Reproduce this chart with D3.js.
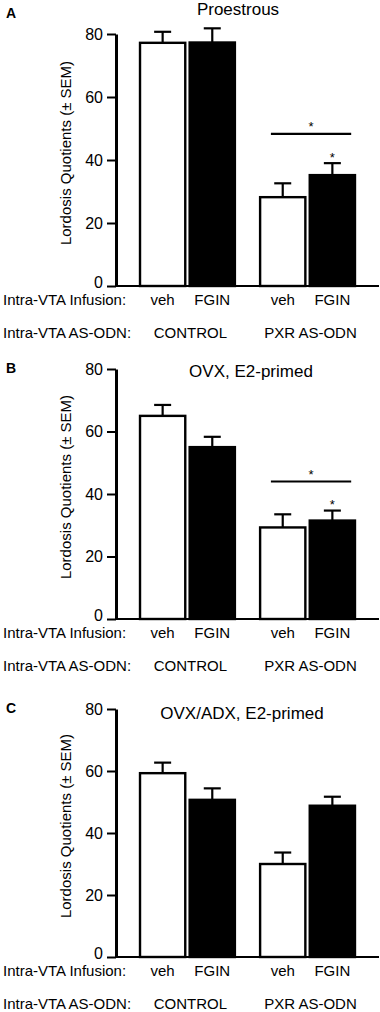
<!DOCTYPE html>
<html><head><meta charset="utf-8">
<script src="https://cdn.jsdelivr.net/npm/d3@7"></script>
<style>
body{margin:0;background:#fff}
svg{display:block}
text{font-family:"Liberation Sans",Arial,Helvetica,sans-serif;fill:#000}
</style>
</head><body>
<svg id="chart" width="380" height="1012"></svg>
<script>
// ---- data ----
const panelLetters = ["A", "B", "C"];
const panelTitles = ["Proestrous", "OVX, E2-primed", "OVX/ADX, E2-primed"];
const groups = ["CONTROL", "PXR AS-ODN"];
const infusions = ["veh", "FGIN"];
const meansA = [77.2, 77.3, 28.2, 35.2];
const semA   = [3.5, 4.5, 4.4, 3.8];
const meansB = [65.0, 55.0, 29.3, 31.5];
const semB   = [3.5, 3.3, 4.2, 3.2];
const meansC = [59.3, 50.7, 30.0, 48.8];
const semC   = [3.4, 3.7, 3.7, 2.9];
const yTicks = [0, 20, 40, 60, 80];
const sigBracket = [48.3, 44.0, null];   // level of the "*" bracket over PXR AS-ODN
const sigFGIN = [true, true, false];     // "*" over PXR FGIN bar
const rowLabels = ["Intra-VTA Infusion:", "Intra-VTA AS-ODN:"];
const yLabel = "Lordosis Quotients (\u00B1 SEM)";

// ---- layout (not data) ----
const layout = [
  {top: 34,  bottom: 286, titleX: 238, titleY: 15,  letterY: 18},
  {top: 369, bottom: 619, titleX: 251, titleY: 377, letterY: 373},
  {top: 709, bottom: 957, titleX: 242, titleY: 719, letterY: 713}
];
const axisX = 116, axisRight = 379;
const means = [meansA, meansB, meansC];
const sems = [semA, semB, semC];

const svg = d3.select("#chart");

const xGroup = d3.scaleBand().domain(groups).range([axisX, axisRight])
  .paddingInner(0.19).paddingOuter(0.19);
const xInf = d3.scaleBand().domain(infusions).range([0, xGroup.bandwidth()])
  .paddingInner(0.04);

panelLetters.forEach((letter, p) => {
  const L = layout[p];
  const g = svg.append("g");
  const y = d3.scaleLinear().domain([0, 80]).range([L.bottom, L.top]);

  const bars = [];
  groups.forEach((grp, gi) => infusions.forEach((inf, ii) => {
    const k = gi * 2 + ii;
    bars.push({grp, inf, v: means[p][k], e: sems[p][k],
      x: xGroup(grp) + xInf(inf), w: xInf.bandwidth()});
  }));

  // panel letter
  g.append("text").attr("x", 6).attr("y", L.letterY)
    .attr("font-size", 14).attr("font-weight", "bold").text(letter);
  // title
  g.append("text").attr("x", L.titleX).attr("y", L.titleY)
    .attr("text-anchor", "middle").attr("font-size", 17).text(panelTitles[p]);

  // bars
  g.selectAll("rect.bar").data(bars).enter().append("rect")
    .attr("class", "bar")
    .attr("x", d => d.x + 1.2).attr("width", d => d.w - 2.4)
    .attr("y", d => y(d.v)).attr("height", d => y(0) - y(d.v))
    .attr("fill", d => d.inf === "veh" ? "#fff" : "#000")
    .attr("stroke", "#000").attr("stroke-width", 2.4);

  // error bars
  const eb = g.selectAll("g.eb").data(bars).enter().append("g");
  eb.append("line")
    .attr("x1", d => d.x + d.w / 2).attr("x2", d => d.x + d.w / 2)
    .attr("y1", d => y(d.v)).attr("y2", d => y(d.v + d.e))
    .attr("stroke", "#000").attr("stroke-width", 2.2);
  eb.append("line")
    .attr("x1", d => d.x + d.w / 2 - 8.5).attr("x2", d => d.x + d.w / 2 + 8.5)
    .attr("y1", d => y(d.v + d.e)).attr("y2", d => y(d.v + d.e))
    .attr("stroke", "#000").attr("stroke-width", 2.2);

  // y axis
  const ax = g.append("g").attr("transform", `translate(${axisX},0)`)
    .call(d3.axisLeft(y).tickValues(yTicks).tickSize(9).tickPadding(4).tickSizeOuter(0));
  ax.select(".domain").attr("stroke", "#000").attr("stroke-width", 3);
  ax.selectAll(".tick line").attr("stroke", "#000").attr("stroke-width", 2);
  ax.selectAll(".tick text").attr("font-size", 16)
    .attr("font-family", '"Liberation Sans",Arial,sans-serif').attr("fill", "#000")
    .attr("dy", d => d === 0 ? "0.12em" : "0.32em");

  // x baseline
  g.append("line").attr("x1", axisX).attr("x2", axisRight)
    .attr("y1", y(0)).attr("y2", y(0))
    .attr("stroke", "#000").attr("stroke-width", 2.2);

  // y label
  g.append("text")
    .attr("transform", `translate(71,${(L.top + L.bottom) / 2 - 7}) rotate(-90)`)
    .attr("text-anchor", "middle").attr("font-size", 15).text(yLabel);

  // significance
  if (sigBracket[p] !== null) {
    const b3 = bars[2], b4 = bars[3];
    const ys = y(sigBracket[p]);
    const x1 = b3.x + 12, x2 = b4.x + b4.w - 5;
    g.append("line").attr("x1", x1).attr("x2", x2).attr("y1", ys).attr("y2", ys)
      .attr("stroke", "#000").attr("stroke-width", 2.2);
    g.append("text").attr("x", (x1 + x2) / 2).attr("y", ys - 10 + 7.5)
      .attr("text-anchor", "middle").attr("font-size", 13).text("*");
  }
  if (sigFGIN[p]) {
    const b4 = bars[3];
    g.append("text").attr("x", b4.x + b4.w / 2).attr("y", y(b4.v + b4.e) - 9 + 7.5)
      .attr("text-anchor", "middle").attr("font-size", 13).text("*");
  }

  // category rows
  g.append("text").attr("x", 3).attr("y", L.bottom + 19).attr("font-size", 15).text(rowLabels[0]);
  g.selectAll("text.inf").data(bars).enter().append("text")
    .attr("x", d => d.x + d.w / 2).attr("y", L.bottom + 19)
    .attr("text-anchor", "middle").attr("font-size", 15).text(d => d.inf);
  g.append("text").attr("x", 3).attr("y", L.bottom + 52).attr("font-size", 15).text(rowLabels[1]);
  g.selectAll("text.grp").data(groups).enter().append("text")
    .attr("x", d => xGroup(d) + xGroup.bandwidth() / 2 + 3).attr("y", L.bottom + 52)
    .attr("text-anchor", "middle").attr("font-size", 15).text(d => d);
});
</script>
</body></html>
